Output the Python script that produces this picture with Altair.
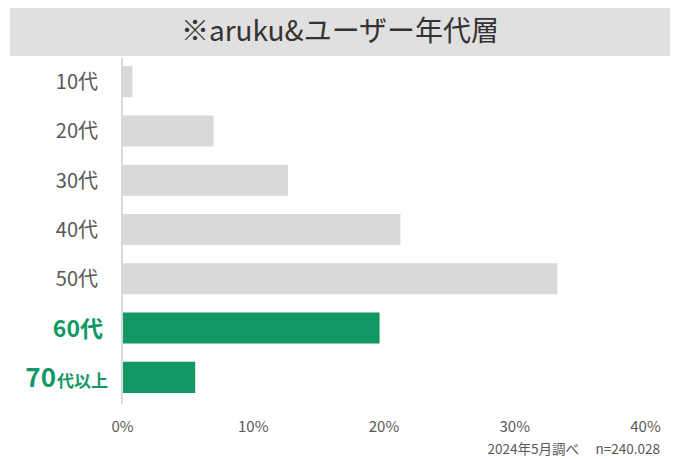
import altair as alt
import pandas as pd

# ---- data ----
ages = ["10代", "20代", "30代", "40代", "50代", "60代", "70代以上"]
values = [0.8, 7.0, 12.7, 21.3, 33.3, 19.7, 5.6]
groups = ["other", "other", "other", "other", "other", "focus", "focus"]
label_main = ["10代", "20代", "30代", "40代", "50代", "60代", "70"]
label_suffix = ["", "", "", "", "", "", "代以上"]
x_ticks = [0, 10, 20, 30, 40]
title_text = "※aruku&ユーザー年代層"
note_text = "2024年5月調べ　 n=240.028"

df = pd.DataFrame({
    "age": ages, "value": values, "group": groups,
    "main": label_main, "suffix": label_suffix,
})

FONT = "Noto Sans CJK JP"
GRAY = "#d9d9d9"
GREEN = "#119865"
TXT = "#595959"
W, H = 523, 345

yscale = alt.Scale(domain=ages, paddingInner=0.37, paddingOuter=0.185)
ycommon = alt.Y("age:N", scale=yscale, axis=None)

base = alt.Chart(df)

bars = base.mark_bar().encode(
    x=alt.X("value:Q", scale=alt.Scale(domain=[0, 40]),
            axis=alt.Axis(values=x_ticks, labelExpr="datum.value + '%'",
                          title=None, domain=False, ticks=False, grid=False,
                          labelFontSize=15, labelColor=TXT, labelFont=FONT,
                          labelPadding=17, labelFlush=False)),
    y=ycommon,
    color=alt.Color("group:N", scale=alt.Scale(domain=["other", "focus"], range=[GRAY, GREEN]),
                    legend=None),
)

axis_line = alt.Chart(df).mark_rule(color=GRAY, strokeWidth=1).encode(
    x=alt.value(0), y=alt.value(1), y2=alt.value(H + 2)
)

lab_other = base.transform_filter("datum.group == 'other'").mark_text(
    align="right", baseline="alphabetic", dy=7.5, fontSize=20, font=FONT, color=TXT
).encode(x=alt.value(-24), y=ycommon, text="main:N")

lab_60 = base.transform_filter("datum.age == '60代'").mark_text(
    align="right", baseline="alphabetic", dy=9, fontSize=23, fontWeight="bold", font=FONT, color=GREEN
).encode(x=alt.value(-19), y=ycommon, text="main:N")

lab_70 = base.transform_filter("datum.age == '70代以上'").mark_text(
    align="right", baseline="alphabetic", dy=9.5, fontSize=26, fontWeight="bold", font=FONT, color=GREEN
).encode(x=alt.value(-66), y=ycommon, text="main:N")

lab_70s = base.transform_filter("datum.age == '70代以上'").mark_text(
    align="right", baseline="alphabetic", dy=9.5, fontSize=17, fontWeight="bold", font=FONT, color=GREEN
).encode(x=alt.value(-14), y=ycommon, text="suffix:N")

tdf = pd.DataFrame({"t": [title_text]})
banner = alt.Chart(tdf).mark_rect(color="#e0e0e0").encode(
    x=alt.value(-112), x2=alt.value(548), y=alt.value(-49), y2=alt.value(-1)
)
title = alt.Chart(tdf).mark_text(
    align="center", baseline="middle", fontSize=28, font=FONT, color="#333333"
).encode(x=alt.value(218), y=alt.value(-24), text="t:N")

ndf = pd.DataFrame({"t": [note_text]})
note = alt.Chart(ndf).mark_text(
    align="right", baseline="alphabetic", fontSize=13.5, font=FONT, color=TXT
).encode(x=alt.value(538), y=alt.value(H + 52), text="t:N")

chart = alt.layer(banner, title, bars, axis_line, lab_other, lab_60, lab_70, lab_70s, note).properties(
    width=W, height=H,
    background="white",
    autosize=alt.AutoSizeParams(type="none"),
    padding={"left": 122, "top": 57, "right": 31, "bottom": 57},
).configure_view(strokeWidth=0, stroke=None)

chart.save("out.html", embed_options={"renderer": "svg", "actions": False})
